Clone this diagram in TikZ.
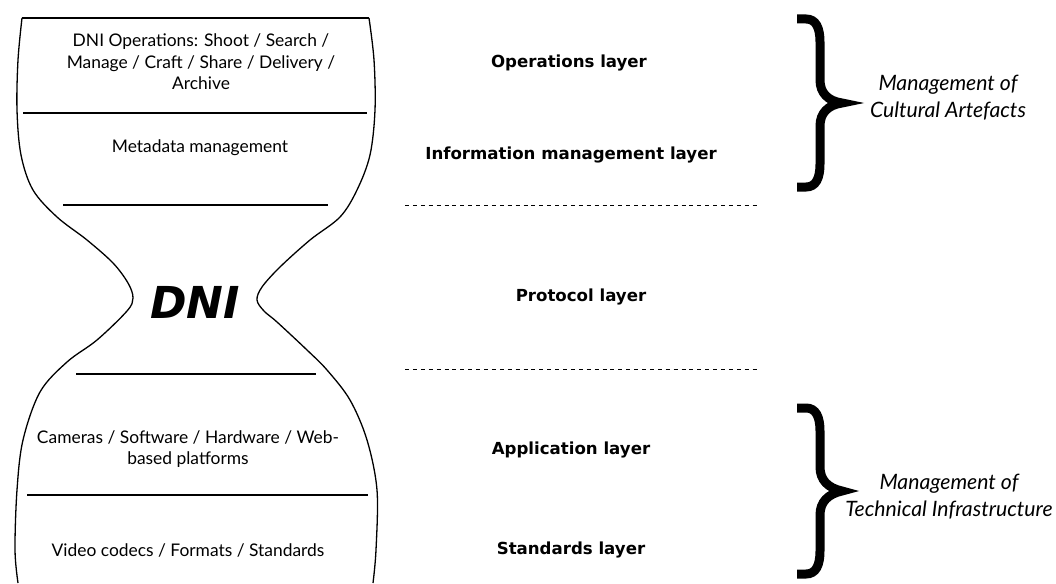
\documentclass[tikz,border=0pt]{standalone}
\usepackage{fontspec}
\setmainfont{Lato}
\newfontfamily\dnifont{DejaVu Sans}
\begin{document}
\begin{tikzpicture}[x=1pt,y=-1pt,
  lbl/.style={font=\fontsize{17.4}{21.5}\selectfont, align=center, inner sep=0pt},
  lay/.style={font=\dnifont\bfseries\fontsize{16.6}{18}\selectfont, inner sep=0pt},
  mgmt/.style={font=\itshape\fontsize{21.2}{27}\selectfont, align=center, inner sep=0pt},
  outline/.style={line width=1.3pt},
  sepline/.style={line width=1.3pt},
  dsh/.style={dash pattern=on 4pt off 3.9pt, line width=0.9pt},
  bracepath/.style={line width=9pt, line join=miter, miter limit=30, line cap=butt}]
\useasboundingbox (0,0) rectangle (1056,583);
% hourglass outline
\draw[outline] plot[smooth,tension=0.55] coordinates {(22,18) (18,60) (17,110) (21,155) (33,190) (57,217) (87,240) (113,263) (128,283) (133,298) (127,311) (97,340) (67,362) (40,392) (23,440) (17,490) (15,550) (18,583)};
\draw[outline] plot[smooth,tension=0.55] coordinates {(369,18) (374,60) (375,110) (370,155) (357,190) (340,217) (310,240) (280,267) (262,287) (257,300) (264,311) (277,322) (307,350) (327,370) (350,400) (367,440) (377,490) (376,550) (373,583)};
% separators
\coordinate (t1) at (22,18);  \coordinate (t2) at (369,18);
\coordinate (a1) at (23,113); \coordinate (a2) at (367,113);
\coordinate (b1) at (63,205); \coordinate (b2) at (328,205);
\coordinate (c1) at (76,374); \coordinate (c2) at (316,374);
\coordinate (d1) at (27,495); \coordinate (d2) at (368,495);
\draw[sepline] (t1) -- (t2);
\draw[sepline] (a1) -- (a2);
\draw[sepline] (b1) -- (b2);
\draw[sepline] (c1) -- (c2);
\draw[sepline] (d1) -- (d2);
% dashed
\coordinate (e1) at (405,205); \coordinate (e2) at (760,205);
\coordinate (f1) at (405,369); \coordinate (f2) at (760,369);
\draw[dsh] (e1) -- (e2);
\draw[dsh] (f1) -- (f2);
% texts in hourglass
\node[lbl] (ops) at (201,62) {DNI Operations: Shoot / Search /\\Manage / Craft / Share / Delivery /\\Archive};
\node[lbl] (meta) at (200,148) {Metadata management};
\node[font=\dnifont\bfseries\itshape\fontsize{44}{44}\selectfont, inner sep=0pt] (dni) at (195,302) {DNI};
\node[lbl] (cam) at (188,449) {Cameras / Software / Hardware / Web-\\based platforms};
\node[lbl] (vid) at (188,550) {Video codecs / Formats / Standards};
% layer labels
\node[lay] (l1) at (569,63) {Operations layer};
\node[lay] (l2) at (571,155) {Information management layer};
\node[lay] (l3) at (581,297) {Protocol layer};
\node[lay] (l4) at (571,450) {Application layer};
\node[lay] (l5) at (571,550) {Standards layer};
% braces
\draw[bracepath] (797,19) -- (806,19) .. controls (816,19) and (820,28) .. (820,42) -- (820,80) .. controls (820,93) and (828,101) .. (842,103) .. controls (828,105) and (820,113) .. (820,126) -- (820,164) .. controls (820,178) and (816,187) .. (806,187) -- (797,187);
\draw[bracepath] (797,408) -- (806,408) .. controls (816,408) and (820,417) .. (820,431) -- (820,467) .. controls (820,480) and (828,488) .. (842,491) .. controls (828,494) and (820,502) .. (820,515) -- (820,551) .. controls (820,565) and (816,574) .. (806,574) -- (797,574);
\node[mgmt] (m1) at (948,98) {Management of\\Cultural Artefacts};
\node[mgmt] (m2) at (949,497) {Management of\\Technical Infrastructure};
\end{tikzpicture}
\end{document}
